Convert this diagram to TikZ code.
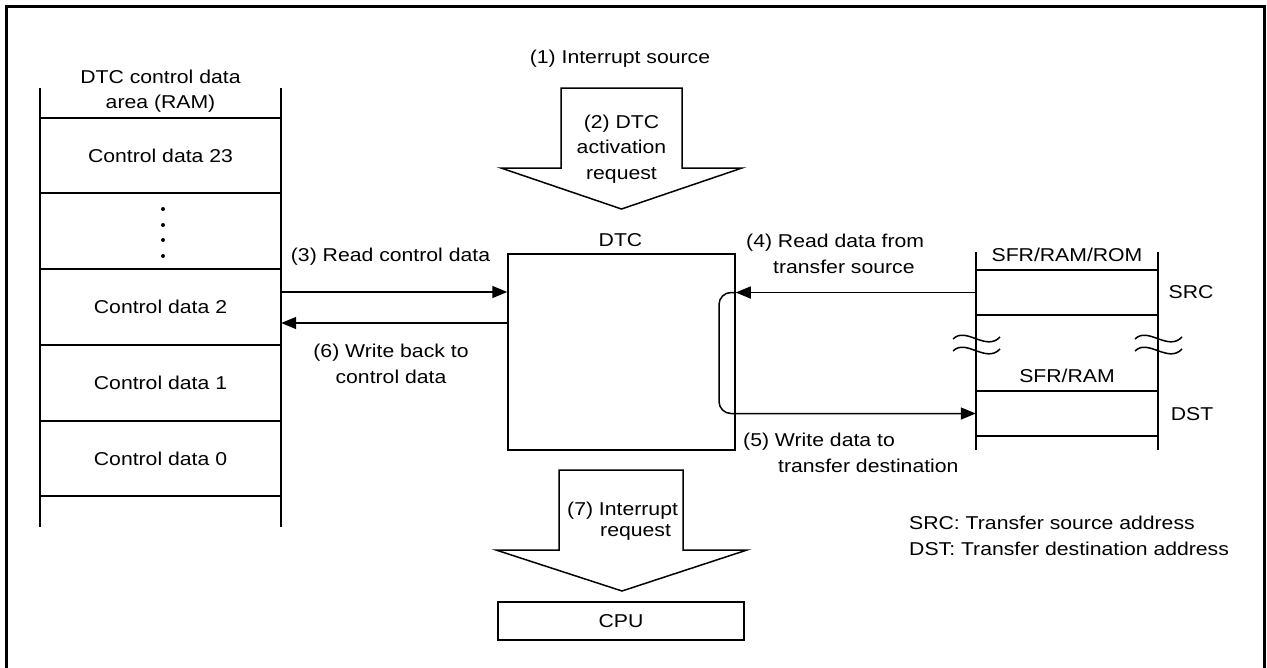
\documentclass[tikz,border=0pt]{standalone}
\usepackage{fontspec}
\setmainfont{Liberation Sans}[FakeStretch=1.14]
\usetikzlibrary{arrows.meta}
\newcommand\lblfont{\fontsize{18.6}{25.5}\selectfont}
\begin{document}
\begin{tikzpicture}[x=1pt,y=-1pt,
  ln/.style={line width=1.5pt},
  arr/.style={ln,-{Triangle[length=15pt,width=12pt]}},
  lbl/.style={font=\lblfont,inner sep=0pt,align=center},
  cell/.style={font=\lblfont,inner sep=0pt,minimum width=241pt,minimum height=75pt},
  rcell/.style={font=\lblfont,inner sep=0pt,minimum width=182pt,minimum height=45pt},
  box/.style={ln,draw,inner sep=0pt,font=\lblfont}]
\useasboundingbox (0,0) rectangle (1267,667);
% frame
\draw[line width=3pt] (6,670) -- (6,6) -- (1264,6) -- (1264,670);

% ---- left memory column
\draw[ln] (40,88) -- (40,527) (281,88) -- (281,527);
\foreach \yy in {118,193,269,345,421,496} \draw[ln] (40,\yy) -- (281,\yy);
\node[lbl] (ttl) at (160.5,91) {DTC control data\\area (RAM)};
\node[cell] (cd23) at (160.5,155.5) {Control data 23};
\node[cell] (cddots) at (160.5,231) {};
\node[cell] (cd2) at (160.5,307) {Control data 2};
\node[cell] (cd1) at (160.5,383) {Control data 1};
\node[cell] (cd0) at (160.5,458.5) {Control data 0};
\foreach \yy in {209,225,240,256} \fill (163,\yy) circle (2pt);

% ---- DTC
\node[box,minimum width=227pt,minimum height=196pt] (dtc) at (621.5,352) {};
\node[lbl,anchor=base] (dtcl) at (620.5,246) {DTC};

% ---- top block arrow (2)
\node[lbl,anchor=base] (src1) at (620,63) {(1) Interrupt source};
\draw[ln] (561,88) -- (682,88) -- (682,168) -- (742,168) -- (621.5,209)
  -- (501,168) -- (561,168) -- cycle;
\node[lbl] (act) at (621.5,149) {(2) DTC\\activation\\request};

% ---- right memory column
\draw[ln] (976,252) -- (976,450) (1158,252) -- (1158,450);
\foreach \yy in {270,315,391,436} \draw[ln] (976,\yy) -- (1158,\yy);
\node[rcell] (src) at (1067,292.5) {};
\node[rcell] (dst) at (1067,413.5) {};
\node[lbl,anchor=base] (srcm) at (1067,261) {SFR/RAM/ROM};
\node[lbl,anchor=base] (dstm) at (1067,382) {SFR/RAM};
\node[lbl,anchor=base] (srcl) at (1191,298.5) {SRC};
\node[lbl,anchor=base] (dstl) at (1192,420) {DST};
% wavy break marks
\foreach \xx in {953,1135}{
  \draw[ln] (\xx,339) .. controls (\xx+13,326) and (\xx+33,352) .. (\xx+47,337);
  \draw[ln] (\xx,351) .. controls (\xx+13,338) and (\xx+33,364) .. (\xx+47,349);
}

% ---- connectors (3) and (6)
\coordinate (r3) at (0,292);
\coordinate (r6) at (0,323);
\draw[arr] (cd2.east |- r3) -- (dtc.west |- r3);
\draw[arr] (dtc.west |- r6) -- (cd2.east |- r6);
\node[lbl,anchor=base] (l3) at (390.5,261) {(3) Read control data};
\node[lbl] (l6) at (391,364) {(6) Write back to\\control data};

% ---- connectors (4) and (5)
\coordinate (lp1) at (719,292.5);
\coordinate (lp2) at (719,413.5);
\draw[arr] (src.west) -- (dtc.east |- src.west);
\draw[arr,rounded corners=12pt] (dtc.east |- src.west) -- (lp1) -- (lp2) -- (dst.west);
\node[lbl,align=left,anchor=west] (l4) at (746,254) {(4) Read data from\\\hspace*{27pt}transfer source};
\node[lbl,align=left,anchor=west] (l5) at (743,452.7) {(5) Write data to\\\hspace*{35pt}transfer destination};

% ---- bottom block arrow (7) and CPU
\draw[ln] (559,470) -- (683,470) -- (683,550) -- (747,550) -- (622,591)
  -- (496,550) -- (559,550) -- cycle;
\node[lbl,align=left,font=\fontsize{18.6}{21}\selectfont,anchor=west] (l7) at (567,520.7) {(7) Interrupt\\\hspace*{33pt}request};
\node[box,minimum width=246pt,minimum height=38pt] (cpu) at (621,621) {CPU};

% ---- legend
\node[lbl,align=left,anchor=west] (leg) at (909,535.7) {SRC: Transfer source address\\DST: Transfer destination address};
\end{tikzpicture}
\end{document}
